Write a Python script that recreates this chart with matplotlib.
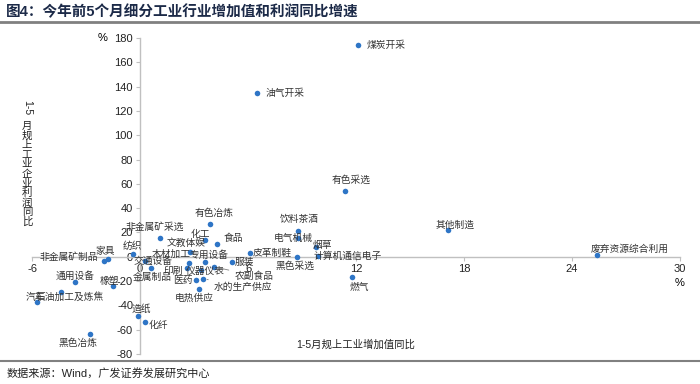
import matplotlib
matplotlib.use("Agg")
import matplotlib.pyplot as plt

plt.rcParams['font.family'] = ['Liberation Sans', 'Noto Sans CJK SC']
plt.rcParams['axes.unicode_minus'] = False

# 行业名称、增加值同比(%)、利润同比(%)
names = ['煤炭开采', '油气开采', '有色采选', '其他制造', '废弃资源综合利用', '饮料茶酒',
         '电气机械', '烟草', '计算机通信电子', '黑色采选', '燃气', '皮革制鞋', '服装',
         '食品', '化工', '有色冶炼', '非金属矿采选', '文教体娱', '木材加工', '专用设备',
         '印刷', '仪器仪表', '农副食品', '医药', '水的生产供应', '电热供应', '纺织',
         '家具', '非金属矿制品', '交通设备', '金属制品', '通用设备', '橡塑',
         '石油加工及炼焦', '汽车', '黑色冶炼', '造纸', '化纤']
value_added = [12.1, 6.5, 11.4, 17.1, 25.4, 8.8, 8.8, 9.8, 9.9, 8.7, 11.8, 6.1, 5.1,
               4.3, 3.6, 3.9, 1.1, 2.8, 2.7, 3.6, 2.6, 3.4, 4.1, 3.1, 3.5, 3.3, -0.4,
               -1.8, -2.0, 0.3, 0.6, -3.6, -1.5, -4.4, -5.7, -2.8, -0.1, 0.3]
profit = [174, 135, 54, 22, 1.4, 21.4, 15.5, 7.7, 0.8, -0.3, -16.4, 3, -4.4,
          10.4, 14.1, 26.9, 15.7, 4.2, -5.4, -4.1, -9, -11, -8.2, -19.3, -18, -26.2, 2.6,
          -1.9, -3.3, -3.5, -9.5, -20.5, -24, -29, -37.3, -63.5, -48.6, -54]
x_ticks = [-6, 0, 6, 12, 18, 24, 30]
y_ticks = [-80, -60, -40, -20, 0, 20, 40, 60, 80, 100, 120, 140, 160, 180]

# 标签偏移(像素)
offsets = {
    '煤炭开采': (28, 0), '油气开采': (28, 0), '有色采选': (6, 11), '其他制造': (7, 5),
    '废弃资源综合利用': (32, 6), '饮料茶酒': (1, 12), '电气机械': (-5, 0), '烟草': (6, 2),
    '计算机通信电子': (29, 0), '黑色采选': (-2, -9), '燃气': (7, -10), '皮革制鞋': (22, 0),
    '服装': (13, 0), '食品': (16, 6), '化工': (-4, 6), '有色冶炼': (4, 11),
    '非金属矿采选': (-5, 11), '文教体娱': (-4, 9), '木材加工': (-17, 9), '专用设备': (4, 7),
    '印刷': (-14, -3), '仪器仪表': (4, -1), '农副食品': (40, -9), '医药': (-13, 0),
    '水的生产供应': (40, -8), '电热供应': (-5, -9), '纺织': (0, 8), '家具': (-2, 8),
    '非金属矿制品': (-35, 4), '交通设备': (8, 0), '金属制品': (1, -9), '通用设备': (0, 6),
    '橡塑': (-4, 5), '石油加工及炼焦': (9, -5), '汽车': (-2, 5), '黑色冶炼': (-12, -9),
    '造纸': (3, 7), '化纤': (13, -3),
}
leaders = ['农副食品', '水的生产供应']

fig = plt.figure(figsize=(7, 3.84), dpi=100)
ax = fig.add_axes([32 / 700, 1 - 354 / 384, 648 / 700, 316 / 384])

ax.scatter(value_added, profit, s=16, color='#2e75c6', zorder=3, linewidths=0)

for name, xv, yv in zip(names, value_added, profit):
    dx, dy = offsets[name]
    kw = {}
    if name in leaders:
        kw['arrowprops'] = dict(arrowstyle='-', color='#7f7f7f', lw=0.6,
                                shrinkA=2, shrinkB=3)
    ax.annotate(name, (xv, yv), xytext=(dx, dy), textcoords='offset pixels',
                ha='center', va='center', fontsize=7, color='#333333', **kw)

ax.set_xlim(-6, 30)
ax.set_ylim(-80, 180)
ax.set_xticks(x_ticks)
ax.set_yticks(y_ticks)
ax.spines['left'].set_position(('data', 0))
ax.spines['bottom'].set_position(('data', 0))
ax.spines['top'].set_visible(False)
ax.spines['right'].set_visible(False)
for s in ['left', 'bottom']:
    ax.spines[s].set_color('#c0c0c0')
    ax.spines[s].set_linewidth(1)
ax.tick_params(length=3, color='#c0c0c0', labelsize=8, pad=2, labelcolor='#222222')
ax.patch.set_alpha(0)

# 轴标题
fig.text(103 / 700, 1 - 38 / 384, '%', fontsize=8, ha='center', va='center')
fig.text(680 / 700, 1 - 283 / 384, '%', fontsize=8, ha='center', va='center')
fig.text(356 / 700, 1 - 345 / 384, '1-5月规上工业增加值同比', fontsize=7.5,
         ha='center', va='center', color='#222222')
fig.text(27 / 700, 1 - 108 / 384, '1-5', fontsize=7.5, rotation=-90,
         ha='center', va='center', color='#222222')
fig.text(27 / 700, 1 - 174 / 384, '\n'.join('月规上工业企业利润同比'), fontsize=7.5,
         ha='center', va='center', linespacing=0.95, color='#222222')

# 标题和来源
fig.text(6 / 700, 1 - 12 / 384, '图4：今年前5个月细分工业行业增加值和利润同比增速',
         fontsize=10.5, fontweight='bold', color='#1c2a48', ha='left', va='center')
fig.add_artist(plt.Line2D([0, 1], [1 - 22 / 384, 1 - 22 / 384], color='#808080', lw=2))
fig.add_artist(plt.Line2D([0, 1], [1 - 361 / 384, 1 - 361 / 384], color='#808080', lw=1.5))
fig.text(7 / 700, 1 - 373 / 384, '数据来源：Wind，广发证券发展研究中心',
         fontsize=8, color='#222222', ha='left', va='center')

fig.savefig('out.png', dpi=100)
